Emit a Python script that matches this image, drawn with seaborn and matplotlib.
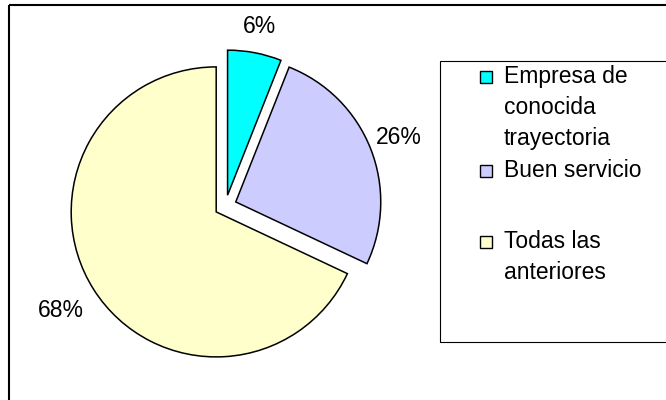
import matplotlib
matplotlib.use('Agg')
import matplotlib.pyplot as plt
from matplotlib.patches import Rectangle
import seaborn as sns

# datos del gráfico
categorias = ['Empresa de\nconocida\ntrayectoria', 'Buen servicio', 'Todas las\nanteriores']
porcentajes = [6, 26, 68]
colores = ['#00FFFF', '#CCCCFF', '#FFFFCC']

sns.set_theme(style='white')
plt.rcParams['font.family'] = ['Liberation Sans', 'DejaVu Sans']

W, H = 666, 400
R = 145              # radio del pie en px
cx, cy = 225.5, 206  # centro del pie en px (desde arriba)
explode = [0.076, 0.076, 0.076]
pct_dist = [1.185, 1.21, 1.27]

fig = plt.figure(figsize=(W / 100, H / 100), dpi=100)
fig.patch.set_facecolor('white')

ax = fig.add_axes([0, 0, 1, 1])
wedges, texts, autotexts = ax.pie(
    porcentajes, colors=colores, explode=explode,
    startangle=90, counterclock=False,
    autopct='%1.0f%%', pctdistance=1.24,
    wedgeprops=dict(edgecolor='black', linewidth=1.1),
    textprops=dict(fontsize=16.5, color='black'))
# ajustar la distancia de cada etiqueta
for t, e, d in zip(autotexts, explode, pct_dist):
    x, y = t.get_position()
    f = (e + d) / (e + 1.24)
    t.set_position((x * f, y * f))

ax.set_xlim(-cx / R, (W - cx) / R)
ax.set_ylim(-(H - cy) / R, cy / R)
ax.set_aspect('auto')
ax.axis('off')

# capa en pixeles para marco y leyenda
ov = fig.add_axes([0, 0, 1, 1], zorder=5)
ov.set_xlim(0, W)
ov.set_ylim(H, 0)
ov.axis('off')
ov.patch.set_alpha(0)

# marco exterior
ov.add_patch(Rectangle((9.3, 5.3), 800, 500, fill=False, edgecolor='black', linewidth=1.5))
# caja de la leyenda
ov.add_patch(Rectangle((439.5, 60.5), 400, 281.5, facecolor='white', edgecolor='black', linewidth=0.8))

# entradas de la leyenda (linea base de la primera linea)
base_y = [82, 176, 247]
for lab, col, y in zip(categorias, colores, base_y):
    ov.add_patch(Rectangle((479.5, y - 11), 12, 12, facecolor=col, edgecolor='black', linewidth=1.0))
    ov.text(504, y - 16.7, lab, fontsize=16.5, va='top', ha='left', linespacing=1.45, color='black')

fig.savefig('out.png', dpi=100)
